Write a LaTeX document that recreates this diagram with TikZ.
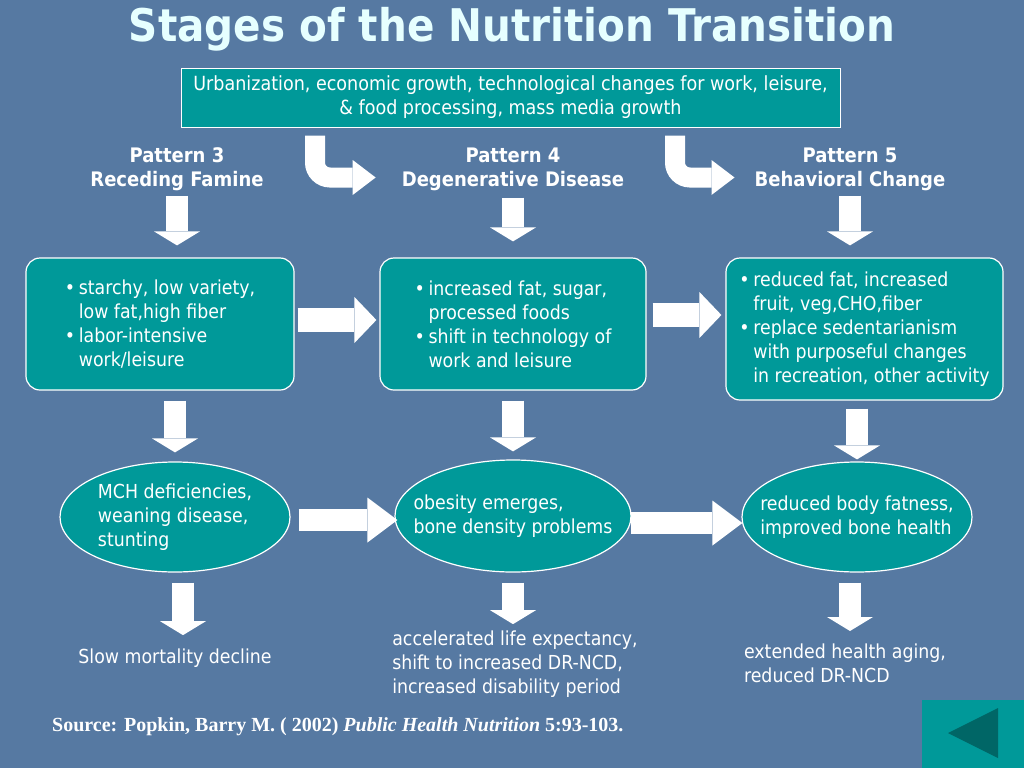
\documentclass[tikz,border=0pt]{standalone}
\usepackage{fontspec}
\setmainfont{DejaVuSansCondensed}[Extension=.ttf, BoldFont=DejaVuSansCondensed-Bold]
\newfontfamily\srcfont{Liberation Serif}
\usetikzlibrary{arrows.meta, positioning, calc, shapes.geometric}
\definecolor{slide}{RGB}{86, 121, 162}
\definecolor{teal1}{RGB}{0, 153, 153}
\definecolor{teal2}{RGB}{0, 102, 102}
\definecolor{titlec}{RGB}{230, 255, 255}
\newcommand{\bul}{\makebox[14pt][l]{\textbullet}}
\newcommand{\ind}{\hspace*{14pt}}

\begin{document}
\begin{tikzpicture}[x=1pt, y=-1pt,
    box/.style={rectangle, rounded corners=14pt, draw=white, line width=1.2pt, fill=teal1,
                text=white, align=left, font=\fontsize{19.3}{24}\selectfont},
    oval/.style={ellipse, draw=white, line width=1.2pt, fill=teal1, inner xsep=-22pt, inner ysep=-5pt,
                 text=white, align=left, font=\fontsize{19.3}{24}\selectfont},
    head/.style={text=white, align=center, inner sep=2pt, font=\bfseries\fontsize{20}{24}\selectfont},
    txt/.style={text=white, align=left, font=\fontsize{19.3}{24}\selectfont},
    darr/.style={draw=white, line width=22pt, -{Triangle[width=46pt, length=14pt, line width=0pt]}},
    rarr/.style={draw=white, line width=24pt, -{Triangle[width=46pt, length=22pt, line width=0pt]}},
    oarr/.style={draw=white, line width=22pt, -{Triangle[width=45pt, length=30pt, line width=0pt]}},
    bendarr/.style={draw=white, line width=20pt, rounded corners=15pt,
                 -{Triangle[width=35pt, length=23pt, line width=0pt]}}]

    % Slide
    \fill[slide] (0,0) rectangle (1024,768);
    \node[text=titlec, font=\bfseries\fontsize{45}{54}\selectfont] (title) at (512,29) {Stages of the Nutrition Transition};
    \node[box, sharp corners, line width=1pt, align=center, minimum width=659, minimum height=59,
          font=\fontsize{19.5}{24}\selectfont] (top) at (510.5,97.5)
          {Urbanization, economic growth, technological changes for work, leisure,\\ \& food processing, mass media growth};

    % Patterns
    \node[head] (pat3) at (177,169) {Pattern 3\\Receding Famine};
    \node[head] (pat4) at (513,169) {Pattern 4\\Degenerative Disease};
    \node[head] (pat5) at (850,169) {Pattern 5\\Behavioral Change};

    % Diets
    \node[box, minimum width=268, minimum height=132] (box1) at (160,324)
          {\bul starchy, low variety,\\ \ind low fat,high fiber\\ \bul labor-intensive\\ \ind work/leisure};
    \node[box, minimum width=266, minimum height=132] (box2) at (513,324)
          {\bul increased fat, sugar,\\ \ind processed foods\\ \bul shift in technology of\\ \ind work and leisure};
    \node[box, minimum width=277, minimum height=142] (box3) at (864.5,329)
          {\bul reduced fat, increased\\ \ind fruit, veg,CHO,fiber\\ \bul replace sedentarianism\\ \ind with purposeful changes\\ \ind in recreation, other activity};

    % Health
    \node[oval, minimum width=230, minimum height=110] (e1) at (175,517) {MCH deficiencies,\\weaning disease,\\stunting};
    \node[oval, minimum width=236, minimum height=112] (e2) at (513,516) {obesity emerges,\\bone density problems};
    \node[oval, minimum width=230, minimum height=110] (e3) at (857,517) {reduced body fatness,\\improved bone health};

    % Outcomes
    \node[txt] (slow) at (175,658) {Slow mortality decline};
    \node[txt] (accel) at (515,664) {accelerated life expectancy,\\shift to increased DR-NCD,\\increased disability period};
    \node[txt] (ext) at (845,663) {extended health aging,\\reduced DR-NCD};

    \node[anchor=west, inner sep=0pt, text=white, font=\srcfont\bfseries\fontsize{20}{24}\selectfont] (src) at (52,727)
          {Source: Popkin, Barry M. ( 2002) \textit{Public Health Nutrition} 5:93-103.};
    \node[fill=teal1, minimum width=102, minimum height=68, inner sep=0pt] (back) at (973,734) {};
    \fill[teal2] (948,733) -- (998,708) -- (998,758) -- cycle;

    % Arrows
    \draw[bendarr, shorten <=8pt, shorten >=24pt] ([xshift=-195.5pt]top.south) |- ([yshift=-8.5pt]pat4.west);
    \draw[bendarr, shorten <=8pt, shorten >=18pt] ([xshift=164.5pt]top.south) |- ([yshift=-8.5pt]pat5.west);
    \draw[darr, shorten <=3pt, shorten >=12pt] (pat3.south) -- (pat3.south |- box1.north);
    \draw[darr, shorten <=5pt, shorten >=16pt] (pat4.south) -- (pat4.south |- box2.north);
    \draw[darr, shorten <=3pt, shorten >=12pt] (pat5.south) -- (pat5.south |- box3.north);
    \draw[rarr, shorten <=3pt, shorten >=3pt] ([yshift=4pt]box1.east) -- ([yshift=4pt]box1.east -| box2.west);
    \draw[rarr, shorten <=6pt, shorten >=4pt] ([yshift=9pt]box2.east) -- ([yshift=9pt]box2.east -| box3.west);
    \draw[darr, shorten <=10pt, shorten >=9pt] (e1.north |- box1.south) -- (e1.north);
    \draw[darr, shorten <=10pt, shorten >=8pt] (box2.south) -- (box2.south |- e2.north);
    \draw[darr, shorten <=8pt, shorten >=2pt] (e3.north |- box3.south) -- (e3.north);
    \draw[oarr, shorten <=8pt, shorten >=-3pt] ([yshift=-3pt]e1.east) -- ([yshift=-3pt]e1.east -| e2.west);
    \draw[oarr, shorten <=-1pt, shorten >=-1pt] ([yshift=-7pt]e2.east) -- ([yshift=-7pt]e2.east -| e3.west);
    \draw[darr, shorten <=10pt, shorten >=10pt] ([xshift=8pt]e1.south) -- ([xshift=8pt]e1.south |- slow.north);
    \draw[darr, shorten <=10pt, shorten >=3pt] (e2.south) -- (e2.south |- accel.north);
    \draw[darr, shorten <=10pt, shorten >=9pt] ([xshift=-7pt]e3.south) -- ([xshift=-7pt]e3.south |- ext.north);
\end{tikzpicture}
\end{document}
